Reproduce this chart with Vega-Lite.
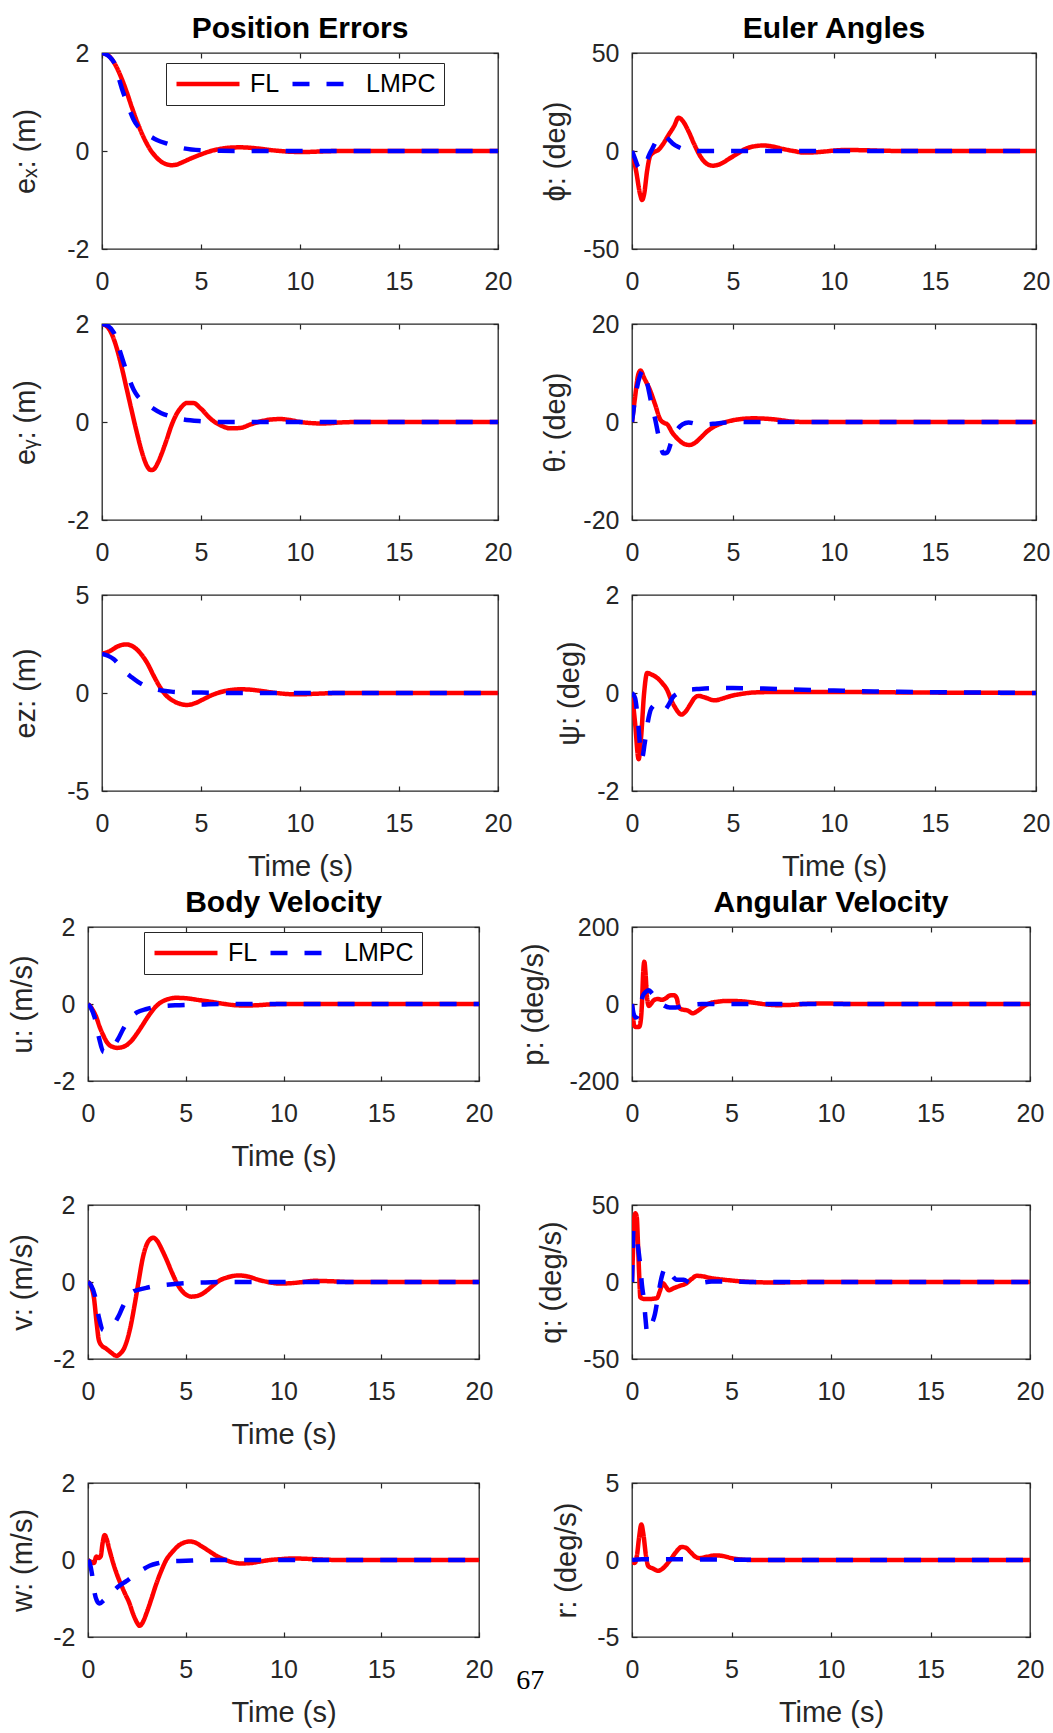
{
"$schema": "https://vega.github.io/schema/vega-lite/v6.json",
"padding": {"left": 8, "top": 13, "right": 0, "bottom": 0},
"background": "#ffffff",
"title": {"text": "67", "orient": "bottom", "anchor": "middle", "frame": "bounds", "font": "Liberation Serif", "fontSize": 28, "fontWeight": "normal", "color": "#000000", "offset": -61, "dx": 1},
"spacing": 5,
"resolve": {"scale": {"color": "independent", "strokeDash": "independent"}},
"config": {
  "font": "Liberation Sans",
  "view": {"stroke": "#262626", "strokeWidth": 1.3},
  "axis": {"domain": false, "grid": false, "tickSize": -5, "tickColor": "#262626", "tickWidth": 1.2, "labelFont": "Liberation Sans", "labelFontSize": 25, "labelColor": "#262626", "labelFlush": false, "labelOverlap": false, "titleFont": "Liberation Sans", "titleFontSize": 29, "titleFontWeight": "normal", "titleColor": "#262626"},
  "axisX": {"labelPadding": 25, "titlePadding": 16},
  "axisY": {"labelPadding": 18, "titlePadding": 12},
  "title": {"font": "Liberation Sans", "fontSize": 30, "fontWeight": "bold", "color": "#000000", "offset": -3, "frame": "group", "anchor": "middle"},
  "line": {"strokeCap": "butt", "strokeJoin": "round"}
},
"datasets": {
"ex": [
{"t":0,"s":"FL","v":2},{"t":0.25,"s":"FL","v":1.97},{"t":0.5,"s":"FL","v":1.87},{"t":0.75,"s":"FL","v":1.7},{"t":1,"s":"FL","v":1.47},{"t":1.25,"s":"FL","v":1.2},{"t":1.5,"s":"FL","v":0.9},{"t":1.75,"s":"FL","v":0.62},{"t":2,"s":"FL","v":0.37},{"t":2.25,"s":"FL","v":0.16},{"t":2.5,"s":"FL","v":-0.01},{"t":2.75,"s":"FL","v":-0.13},{"t":3,"s":"FL","v":-0.22},{"t":3.25,"s":"FL","v":-0.27},{"t":3.5,"s":"FL","v":-0.29},{"t":3.75,"s":"FL","v":-0.28},{"t":4,"s":"FL","v":-0.24},{"t":4.5,"s":"FL","v":-0.15},{"t":5,"s":"FL","v":-0.07},{"t":5.5,"s":"FL","v":0},{"t":6,"s":"FL","v":0.045},{"t":6.5,"s":"FL","v":0.07},{"t":7,"s":"FL","v":0.075},{"t":7.5,"s":"FL","v":0.065},{"t":8,"s":"FL","v":0.045},{"t":8.5,"s":"FL","v":0.02},{"t":9,"s":"FL","v":0},{"t":9.5,"s":"FL","v":-0.015},{"t":10,"s":"FL","v":-0.02},{"t":10.5,"s":"FL","v":-0.018},{"t":11,"s":"FL","v":-0.01},{"t":12,"s":"FL","v":0},{"t":14,"s":"FL","v":0},{"t":20,"s":"FL","v":0},
{"t":0,"s":"LMPC","v":2},{"t":0.3,"s":"LMPC","v":1.95},{"t":0.5,"s":"LMPC","v":1.87},{"t":0.67,"s":"LMPC","v":1.75},{"t":0.84,"s":"LMPC","v":1.5},{"t":1,"s":"LMPC","v":1.28},{"t":1.2,"s":"LMPC","v":1.05},{"t":1.4,"s":"LMPC","v":0.83},{"t":1.6,"s":"LMPC","v":0.64},{"t":1.8,"s":"LMPC","v":0.51},{"t":2,"s":"LMPC","v":0.42},{"t":2.4,"s":"LMPC","v":0.31},{"t":2.8,"s":"LMPC","v":0.22},{"t":3.3,"s":"LMPC","v":0.15},{"t":4,"s":"LMPC","v":0.065},{"t":5,"s":"LMPC","v":0.015},{"t":6,"s":"LMPC","v":0.003},{"t":7,"s":"LMPC","v":0},{"t":20,"s":"LMPC","v":0}
],
"ey": [
{"t":0,"s":"FL","v":2},{"t":0.25,"s":"FL","v":1.95},{"t":0.5,"s":"FL","v":1.79},{"t":0.75,"s":"FL","v":1.5},{"t":1,"s":"FL","v":1.11},{"t":1.25,"s":"FL","v":0.67},{"t":1.5,"s":"FL","v":0.23},{"t":1.75,"s":"FL","v":-0.2},{"t":2,"s":"FL","v":-0.59},{"t":2.25,"s":"FL","v":-0.88},{"t":2.45,"s":"FL","v":-0.98},{"t":2.6,"s":"FL","v":-0.97},{"t":2.8,"s":"FL","v":-0.85},{"t":3,"s":"FL","v":-0.66},{"t":3.25,"s":"FL","v":-0.38},{"t":3.5,"s":"FL","v":-0.08},{"t":3.75,"s":"FL","v":0.15},{"t":4,"s":"FL","v":0.3},{"t":4.3,"s":"FL","v":0.39},{"t":4.6,"s":"FL","v":0.39},{"t":5,"s":"FL","v":0.27},{"t":5.5,"s":"FL","v":0.06},{"t":6,"s":"FL","v":-0.07},{"t":6.5,"s":"FL","v":-0.13},{"t":7,"s":"FL","v":-0.12},{"t":7.5,"s":"FL","v":-0.05},{"t":8,"s":"FL","v":0.01},{"t":8.5,"s":"FL","v":0.05},{"t":9,"s":"FL","v":0.06},{"t":9.5,"s":"FL","v":0.04},{"t":10,"s":"FL","v":0},{"t":10.5,"s":"FL","v":-0.02},{"t":11,"s":"FL","v":-0.03},{"t":11.5,"s":"FL","v":-0.025},{"t":12,"s":"FL","v":-0.01},{"t":13,"s":"FL","v":0},{"t":20,"s":"FL","v":0},
{"t":0,"s":"LMPC","v":2},{"t":0.3,"s":"LMPC","v":1.96},{"t":0.6,"s":"LMPC","v":1.82},{"t":0.85,"s":"LMPC","v":1.52},{"t":1.1,"s":"LMPC","v":1.2},{"t":1.35,"s":"LMPC","v":0.9},{"t":1.6,"s":"LMPC","v":0.66},{"t":1.8,"s":"LMPC","v":0.53},{"t":2.1,"s":"LMPC","v":0.42},{"t":2.5,"s":"LMPC","v":0.3},{"t":3,"s":"LMPC","v":0.18},{"t":3.5,"s":"LMPC","v":0.11},{"t":4,"s":"LMPC","v":0.06},{"t":5,"s":"LMPC","v":0.015},{"t":6,"s":"LMPC","v":0},{"t":20,"s":"LMPC","v":0}
],
"ez": [
{"t":0,"s":"FL","v":2},{"t":0.4,"s":"FL","v":2.14},{"t":0.8,"s":"FL","v":2.38},{"t":1.2,"s":"FL","v":2.48},{"t":1.6,"s":"FL","v":2.35},{"t":2,"s":"FL","v":1.95},{"t":2.3,"s":"FL","v":1.5},{"t":2.6,"s":"FL","v":0.9},{"t":2.9,"s":"FL","v":0.35},{"t":3.2,"s":"FL","v":-0.08},{"t":3.6,"s":"FL","v":-0.4},{"t":4,"s":"FL","v":-0.57},{"t":4.3,"s":"FL","v":-0.61},{"t":4.7,"s":"FL","v":-0.52},{"t":5.1,"s":"FL","v":-0.33},{"t":5.5,"s":"FL","v":-0.13},{"t":6,"s":"FL","v":0.05},{"t":6.5,"s":"FL","v":0.15},{"t":7,"s":"FL","v":0.19},{"t":7.5,"s":"FL","v":0.17},{"t":8,"s":"FL","v":0.11},{"t":8.5,"s":"FL","v":0.04},{"t":9,"s":"FL","v":-0.02},{"t":9.5,"s":"FL","v":-0.06},{"t":10,"s":"FL","v":-0.07},{"t":10.5,"s":"FL","v":-0.05},{"t":11,"s":"FL","v":-0.03},{"t":12,"s":"FL","v":0},{"t":20,"s":"FL","v":0},
{"t":0,"s":"LMPC","v":2},{"t":0.3,"s":"LMPC","v":1.9},{"t":0.6,"s":"LMPC","v":1.72},{"t":0.9,"s":"LMPC","v":1.4},{"t":1.2,"s":"LMPC","v":1.05},{"t":1.5,"s":"LMPC","v":0.8},{"t":1.8,"s":"LMPC","v":0.58},{"t":2.1,"s":"LMPC","v":0.4},{"t":2.5,"s":"LMPC","v":0.25},{"t":3,"s":"LMPC","v":0.13},{"t":3.5,"s":"LMPC","v":0.07},{"t":4,"s":"LMPC","v":0.04},{"t":5,"s":"LMPC","v":0.02},{"t":6,"s":"LMPC","v":0.005},{"t":7,"s":"LMPC","v":0},{"t":20,"s":"LMPC","v":0}
],
"phi": [
{"t":0,"s":"FL","v":0},{"t":0.2,"s":"FL","v":-10},{"t":0.4,"s":"FL","v":-22},{"t":0.5,"s":"FL","v":-25},{"t":0.6,"s":"FL","v":-22},{"t":0.75,"s":"FL","v":-10},{"t":0.9,"s":"FL","v":-2.5},{"t":1.1,"s":"FL","v":-0.5},{"t":1.3,"s":"FL","v":0.5},{"t":1.5,"s":"FL","v":3},{"t":1.8,"s":"FL","v":8},{"t":2.1,"s":"FL","v":13},{"t":2.3,"s":"FL","v":17},{"t":2.5,"s":"FL","v":15.5},{"t":2.8,"s":"FL","v":10},{"t":3.1,"s":"FL","v":3},{"t":3.4,"s":"FL","v":-3},{"t":3.7,"s":"FL","v":-6.5},{"t":4,"s":"FL","v":-7.5},{"t":4.4,"s":"FL","v":-6.5},{"t":4.8,"s":"FL","v":-4},{"t":5.2,"s":"FL","v":-1.5},{"t":5.6,"s":"FL","v":1},{"t":6,"s":"FL","v":2.3},{"t":6.5,"s":"FL","v":2.8},{"t":7,"s":"FL","v":2.2},{"t":7.5,"s":"FL","v":1},{"t":8,"s":"FL","v":0},{"t":8.5,"s":"FL","v":-0.8},{"t":9,"s":"FL","v":-0.7},{"t":9.5,"s":"FL","v":-0.3},{"t":10,"s":"FL","v":0.2},{"t":10.5,"s":"FL","v":0.5},{"t":11.5,"s":"FL","v":0.4},{"t":12.5,"s":"FL","v":0.1},{"t":14,"s":"FL","v":0},{"t":20,"s":"FL","v":0},
{"t":0,"s":"LMPC","v":0},{"t":0.15,"s":"LMPC","v":-4},{"t":0.3,"s":"LMPC","v":-8},{"t":0.5,"s":"LMPC","v":-9.5},{"t":0.7,"s":"LMPC","v":-6},{"t":0.85,"s":"LMPC","v":-2},{"t":1,"s":"LMPC","v":1},{"t":1.25,"s":"LMPC","v":6},{"t":1.5,"s":"LMPC","v":8},{"t":1.75,"s":"LMPC","v":6.5},{"t":2,"s":"LMPC","v":4},{"t":2.3,"s":"LMPC","v":2},{"t":2.6,"s":"LMPC","v":0.8},{"t":3,"s":"LMPC","v":0.2},{"t":3.5,"s":"LMPC","v":0},{"t":20,"s":"LMPC","v":0}
],
"theta": [
{"t":0,"s":"FL","v":0},{"t":0.15,"s":"FL","v":5},{"t":0.3,"s":"FL","v":9.5},{"t":0.42,"s":"FL","v":10.5},{"t":0.6,"s":"FL","v":9},{"t":0.9,"s":"FL","v":6.4},{"t":1.15,"s":"FL","v":3.5},{"t":1.4,"s":"FL","v":0.5},{"t":1.6,"s":"FL","v":-0.2},{"t":1.75,"s":"FL","v":-0.5},{"t":2,"s":"FL","v":-2.2},{"t":2.3,"s":"FL","v":-3.6},{"t":2.6,"s":"FL","v":-4.5},{"t":2.85,"s":"FL","v":-4.7},{"t":3.1,"s":"FL","v":-4.3},{"t":3.4,"s":"FL","v":-3.2},{"t":3.7,"s":"FL","v":-2},{"t":4,"s":"FL","v":-1.1},{"t":4.5,"s":"FL","v":-0.2},{"t":5,"s":"FL","v":0.35},{"t":5.5,"s":"FL","v":0.65},{"t":6,"s":"FL","v":0.75},{"t":6.5,"s":"FL","v":0.7},{"t":7,"s":"FL","v":0.55},{"t":7.5,"s":"FL","v":0.3},{"t":8,"s":"FL","v":0.05},{"t":9,"s":"FL","v":0},{"t":20,"s":"FL","v":0},
{"t":0,"s":"LMPC","v":0},{"t":0.2,"s":"LMPC","v":6},{"t":0.4,"s":"LMPC","v":9.5},{"t":0.58,"s":"LMPC","v":10.6},{"t":0.75,"s":"LMPC","v":8},{"t":0.95,"s":"LMPC","v":4},{"t":1.15,"s":"LMPC","v":0.5},{"t":1.35,"s":"LMPC","v":-3.5},{"t":1.55,"s":"LMPC","v":-6.4},{"t":1.75,"s":"LMPC","v":-6.2},{"t":1.95,"s":"LMPC","v":-4},{"t":2.2,"s":"LMPC","v":-1.8},{"t":2.5,"s":"LMPC","v":-0.5},{"t":2.8,"s":"LMPC","v":-0.1},{"t":3.2,"s":"LMPC","v":-0.4},{"t":3.6,"s":"LMPC","v":-0.5},{"t":4.2,"s":"LMPC","v":-0.3},{"t":5,"s":"LMPC","v":0},{"t":20,"s":"LMPC","v":0}
],
"psi": [
{"t":0,"s":"FL","v":0},{"t":0.15,"s":"FL","v":-0.6},{"t":0.33,"s":"FL","v":-1.35},{"t":0.45,"s":"FL","v":-0.9},{"t":0.6,"s":"FL","v":0},{"t":0.75,"s":"FL","v":0.41},{"t":0.95,"s":"FL","v":0.38},{"t":1.24,"s":"FL","v":0.31},{"t":1.5,"s":"FL","v":0.2},{"t":1.73,"s":"FL","v":0.07},{"t":1.95,"s":"FL","v":-0.15},{"t":2.14,"s":"FL","v":-0.3},{"t":2.45,"s":"FL","v":-0.44},{"t":2.65,"s":"FL","v":-0.38},{"t":2.89,"s":"FL","v":-0.23},{"t":3.1,"s":"FL","v":-0.1},{"t":3.3,"s":"FL","v":-0.06},{"t":3.6,"s":"FL","v":-0.09},{"t":4.1,"s":"FL","v":-0.15},{"t":4.5,"s":"FL","v":-0.11},{"t":4.9,"s":"FL","v":-0.06},{"t":5.4,"s":"FL","v":-0.02},{"t":6,"s":"FL","v":0.01},{"t":7,"s":"FL","v":0.02},{"t":10,"s":"FL","v":0.02},{"t":14,"s":"FL","v":0.01},{"t":20,"s":"FL","v":0},
{"t":0,"s":"LMPC","v":0},{"t":0.15,"s":"LMPC","v":-0.1},{"t":0.28,"s":"LMPC","v":-0.5},{"t":0.42,"s":"LMPC","v":-1.15},{"t":0.5,"s":"LMPC","v":-1.32},{"t":0.62,"s":"LMPC","v":-1.05},{"t":0.78,"s":"LMPC","v":-0.6},{"t":0.95,"s":"LMPC","v":-0.32},{"t":1.2,"s":"LMPC","v":-0.23},{"t":1.45,"s":"LMPC","v":-0.3},{"t":1.6,"s":"LMPC","v":-0.35},{"t":1.8,"s":"LMPC","v":-0.25},{"t":2,"s":"LMPC","v":-0.1},{"t":2.3,"s":"LMPC","v":0},{"t":2.7,"s":"LMPC","v":0.06},{"t":3.2,"s":"LMPC","v":0.08},{"t":4,"s":"LMPC","v":0.1},{"t":5,"s":"LMPC","v":0.1},{"t":6.5,"s":"LMPC","v":0.09},{"t":8,"s":"LMPC","v":0.07},{"t":10,"s":"LMPC","v":0.05},{"t":12,"s":"LMPC","v":0.03},{"t":14,"s":"LMPC","v":0.02},{"t":17,"s":"LMPC","v":0.01},{"t":20,"s":"LMPC","v":0}
],
"u": [
{"t":0,"s":"FL","v":0},{"t":0.2,"s":"FL","v":-0.12},{"t":0.43,"s":"FL","v":-0.35},{"t":0.6,"s":"FL","v":-0.6},{"t":0.77,"s":"FL","v":-0.8},{"t":0.95,"s":"FL","v":-0.98},{"t":1.1,"s":"FL","v":-1.07},{"t":1.3,"s":"FL","v":-1.12},{"t":1.5,"s":"FL","v":-1.14},{"t":1.75,"s":"FL","v":-1.12},{"t":2,"s":"FL","v":-1.06},{"t":2.25,"s":"FL","v":-0.94},{"t":2.5,"s":"FL","v":-0.77},{"t":2.75,"s":"FL","v":-0.58},{"t":3,"s":"FL","v":-0.38},{"t":3.25,"s":"FL","v":-0.2},{"t":3.5,"s":"FL","v":-0.05},{"t":3.75,"s":"FL","v":0.05},{"t":4,"s":"FL","v":0.11},{"t":4.5,"s":"FL","v":0.16},{"t":5,"s":"FL","v":0.15},{"t":5.7,"s":"FL","v":0.1},{"t":6.5,"s":"FL","v":0.04},{"t":7,"s":"FL","v":0},{"t":7.5,"s":"FL","v":-0.03},{"t":8.1,"s":"FL","v":-0.04},{"t":8.7,"s":"FL","v":-0.03},{"t":9.3,"s":"FL","v":-0.01},{"t":10,"s":"FL","v":0},{"t":20,"s":"FL","v":0},
{"t":0,"s":"LMPC","v":0},{"t":0.15,"s":"LMPC","v":-0.1},{"t":0.34,"s":"LMPC","v":-0.35},{"t":0.55,"s":"LMPC","v":-0.85},{"t":0.8,"s":"LMPC","v":-1.25},{"t":1,"s":"LMPC","v":-1.2},{"t":1.3,"s":"LMPC","v":-1.1},{"t":1.55,"s":"LMPC","v":-0.9},{"t":1.8,"s":"LMPC","v":-0.65},{"t":2.1,"s":"LMPC","v":-0.4},{"t":2.5,"s":"LMPC","v":-0.22},{"t":3,"s":"LMPC","v":-0.13},{"t":3.7,"s":"LMPC","v":-0.06},{"t":4.7,"s":"LMPC","v":-0.03},{"t":6,"s":"LMPC","v":-0.01},{"t":7,"s":"LMPC","v":0},{"t":20,"s":"LMPC","v":0}
],
"v": [
{"t":0,"s":"FL","v":0},{"t":0.15,"s":"FL","v":-0.1},{"t":0.3,"s":"FL","v":-0.4},{"t":0.45,"s":"FL","v":-1.1},{"t":0.55,"s":"FL","v":-1.5},{"t":0.7,"s":"FL","v":-1.65},{"t":0.9,"s":"FL","v":-1.72},{"t":1.1,"s":"FL","v":-1.8},{"t":1.3,"s":"FL","v":-1.88},{"t":1.45,"s":"FL","v":-1.92},{"t":1.65,"s":"FL","v":-1.86},{"t":1.85,"s":"FL","v":-1.72},{"t":2.05,"s":"FL","v":-1.42},{"t":2.2,"s":"FL","v":-1.1},{"t":2.4,"s":"FL","v":-0.55},{"t":2.6,"s":"FL","v":0.05},{"t":2.8,"s":"FL","v":0.62},{"t":3,"s":"FL","v":0.97},{"t":3.2,"s":"FL","v":1.12},{"t":3.35,"s":"FL","v":1.15},{"t":3.55,"s":"FL","v":1.06},{"t":3.8,"s":"FL","v":0.82},{"t":4,"s":"FL","v":0.6},{"t":4.3,"s":"FL","v":0.24},{"t":4.6,"s":"FL","v":-0.08},{"t":4.9,"s":"FL","v":-0.28},{"t":5.3,"s":"FL","v":-0.38},{"t":5.6,"s":"FL","v":-0.36},{"t":5.9,"s":"FL","v":-0.29},{"t":6.3,"s":"FL","v":-0.13},{"t":6.7,"s":"FL","v":0.03},{"t":7.2,"s":"FL","v":0.13},{"t":7.7,"s":"FL","v":0.17},{"t":8.2,"s":"FL","v":0.14},{"t":8.7,"s":"FL","v":0.06},{"t":9.2,"s":"FL","v":0},{"t":9.8,"s":"FL","v":-0.04},{"t":10.4,"s":"FL","v":-0.03},{"t":11,"s":"FL","v":0},{"t":11.6,"s":"FL","v":0.03},{"t":12.4,"s":"FL","v":0.02},{"t":13.5,"s":"FL","v":0},{"t":20,"s":"FL","v":0},
{"t":0,"s":"LMPC","v":0},{"t":0.15,"s":"LMPC","v":-0.08},{"t":0.35,"s":"LMPC","v":-0.35},{"t":0.55,"s":"LMPC","v":-0.9},{"t":0.78,"s":"LMPC","v":-1.25},{"t":1,"s":"LMPC","v":-1.18},{"t":1.3,"s":"LMPC","v":-1.1},{"t":1.55,"s":"LMPC","v":-0.9},{"t":1.8,"s":"LMPC","v":-0.62},{"t":2.05,"s":"LMPC","v":-0.4},{"t":2.3,"s":"LMPC","v":-0.25},{"t":2.6,"s":"LMPC","v":-0.2},{"t":3,"s":"LMPC","v":-0.15},{"t":3.5,"s":"LMPC","v":-0.1},{"t":4,"s":"LMPC","v":-0.07},{"t":5,"s":"LMPC","v":-0.03},{"t":6,"s":"LMPC","v":-0.01},{"t":7,"s":"LMPC","v":0},{"t":20,"s":"LMPC","v":0}
],
"w": [
{"t":0,"s":"FL","v":0},{"t":0.15,"s":"FL","v":-0.05},{"t":0.3,"s":"FL","v":-0.08},{"t":0.43,"s":"FL","v":0.09},{"t":0.55,"s":"FL","v":0.05},{"t":0.65,"s":"FL","v":0.1},{"t":0.75,"s":"FL","v":0.45},{"t":0.85,"s":"FL","v":0.65},{"t":0.95,"s":"FL","v":0.55},{"t":1.1,"s":"FL","v":0.26},{"t":1.3,"s":"FL","v":-0.1},{"t":1.5,"s":"FL","v":-0.4},{"t":1.7,"s":"FL","v":-0.65},{"t":1.9,"s":"FL","v":-0.88},{"t":2.1,"s":"FL","v":-1.1},{"t":2.3,"s":"FL","v":-1.39},{"t":2.5,"s":"FL","v":-1.62},{"t":2.64,"s":"FL","v":-1.71},{"t":2.8,"s":"FL","v":-1.62},{"t":3,"s":"FL","v":-1.37},{"t":3.25,"s":"FL","v":-1},{"t":3.5,"s":"FL","v":-0.61},{"t":3.75,"s":"FL","v":-0.28},{"t":4,"s":"FL","v":0},{"t":4.3,"s":"FL","v":0.2},{"t":4.6,"s":"FL","v":0.36},{"t":4.9,"s":"FL","v":0.45},{"t":5.2,"s":"FL","v":0.48},{"t":5.5,"s":"FL","v":0.45},{"t":5.8,"s":"FL","v":0.36},{"t":6.2,"s":"FL","v":0.23},{"t":6.6,"s":"FL","v":0.1},{"t":7,"s":"FL","v":0.01},{"t":7.4,"s":"FL","v":-0.06},{"t":7.8,"s":"FL","v":-0.09},{"t":8.3,"s":"FL","v":-0.08},{"t":8.8,"s":"FL","v":-0.04},{"t":9.3,"s":"FL","v":0},{"t":9.8,"s":"FL","v":0.02},{"t":10.5,"s":"FL","v":0.04},{"t":11.2,"s":"FL","v":0.03},{"t":12,"s":"FL","v":0.01},{"t":13,"s":"FL","v":0},{"t":20,"s":"FL","v":0},
{"t":0,"s":"LMPC","v":0},{"t":0.1,"s":"LMPC","v":-0.1},{"t":0.2,"s":"LMPC","v":-0.35},{"t":0.3,"s":"LMPC","v":-0.75},{"t":0.45,"s":"LMPC","v":-1.05},{"t":0.6,"s":"LMPC","v":-1.13},{"t":0.8,"s":"LMPC","v":-1.05},{"t":1,"s":"LMPC","v":-0.95},{"t":1.3,"s":"LMPC","v":-0.8},{"t":1.6,"s":"LMPC","v":-0.67},{"t":1.96,"s":"LMPC","v":-0.55},{"t":2.3,"s":"LMPC","v":-0.42},{"t":2.7,"s":"LMPC","v":-0.28},{"t":3.15,"s":"LMPC","v":-0.15},{"t":3.6,"s":"LMPC","v":-0.08},{"t":4,"s":"LMPC","v":-0.04},{"t":5,"s":"LMPC","v":-0.02},{"t":6,"s":"LMPC","v":0},{"t":20,"s":"LMPC","v":0}
],
"p": [
{"t":0,"s":"FL","v":0},{"t":0.05,"s":"FL","v":-30},{"t":0.1,"s":"FL","v":-55},{"t":0.2,"s":"FL","v":-60},{"t":0.35,"s":"FL","v":-60},{"t":0.42,"s":"FL","v":-50},{"t":0.5,"s":"FL","v":0},{"t":0.56,"s":"FL","v":80},{"t":0.62,"s":"FL","v":110},{"t":0.68,"s":"FL","v":80},{"t":0.75,"s":"FL","v":20},{"t":0.85,"s":"FL","v":-5},{"t":0.95,"s":"FL","v":0},{"t":1.1,"s":"FL","v":10},{"t":1.3,"s":"FL","v":13},{"t":1.5,"s":"FL","v":11},{"t":1.7,"s":"FL","v":15},{"t":1.9,"s":"FL","v":22},{"t":2.1,"s":"FL","v":23},{"t":2.25,"s":"FL","v":15},{"t":2.35,"s":"FL","v":-8},{"t":2.5,"s":"FL","v":-14},{"t":2.8,"s":"FL","v":-17},{"t":3.05,"s":"FL","v":-24},{"t":3.3,"s":"FL","v":-18},{"t":3.6,"s":"FL","v":-6},{"t":3.9,"s":"FL","v":2},{"t":4.3,"s":"FL","v":6},{"t":4.8,"s":"FL","v":8},{"t":5.3,"s":"FL","v":7.5},{"t":5.8,"s":"FL","v":5.5},{"t":6.3,"s":"FL","v":2},{"t":6.8,"s":"FL","v":-1.5},{"t":7.3,"s":"FL","v":-3},{"t":7.9,"s":"FL","v":-2.5},{"t":8.5,"s":"FL","v":-0.5},{"t":9.3,"s":"FL","v":1},{"t":10,"s":"FL","v":1},{"t":11,"s":"FL","v":0},{"t":20,"s":"FL","v":0},
{"t":0,"s":"LMPC","v":0},{"t":0.08,"s":"LMPC","v":-25},{"t":0.2,"s":"LMPC","v":-35},{"t":0.3,"s":"LMPC","v":-30},{"t":0.42,"s":"LMPC","v":-5},{"t":0.55,"s":"LMPC","v":22},{"t":0.7,"s":"LMPC","v":32},{"t":0.85,"s":"LMPC","v":36},{"t":1,"s":"LMPC","v":28},{"t":1.2,"s":"LMPC","v":14},{"t":1.5,"s":"LMPC","v":0},{"t":1.9,"s":"LMPC","v":-9},{"t":2.2,"s":"LMPC","v":-9},{"t":2.5,"s":"LMPC","v":-6},{"t":3,"s":"LMPC","v":-2},{"t":3.5,"s":"LMPC","v":0},{"t":20,"s":"LMPC","v":0}
],
"q": [
{"t":0,"s":"FL","v":0},{"t":0.05,"s":"FL","v":20},{"t":0.1,"s":"FL","v":40},{"t":0.17,"s":"FL","v":44.6},{"t":0.24,"s":"FL","v":42},{"t":0.3,"s":"FL","v":25},{"t":0.36,"s":"FL","v":5},{"t":0.42,"s":"FL","v":-10},{"t":0.6,"s":"FL","v":-11},{"t":0.9,"s":"FL","v":-11},{"t":1.25,"s":"FL","v":-10.5},{"t":1.4,"s":"FL","v":-6},{"t":1.55,"s":"FL","v":-0.8},{"t":1.7,"s":"FL","v":-3},{"t":1.85,"s":"FL","v":-5.4},{"t":2.1,"s":"FL","v":-4},{"t":2.4,"s":"FL","v":-2.5},{"t":2.75,"s":"FL","v":-0.7},{"t":3,"s":"FL","v":2},{"t":3.25,"s":"FL","v":4},{"t":3.5,"s":"FL","v":3.8},{"t":3.9,"s":"FL","v":2.7},{"t":4.4,"s":"FL","v":1.8},{"t":4.9,"s":"FL","v":1.1},{"t":5.5,"s":"FL","v":0.4},{"t":6.2,"s":"FL","v":-0.1},{"t":7,"s":"FL","v":-0.3},{"t":8,"s":"FL","v":-0.2},{"t":9,"s":"FL","v":0},{"t":20,"s":"FL","v":0},
{"t":0,"s":"LMPC","v":0},{"t":0.08,"s":"LMPC","v":34},{"t":0.15,"s":"LMPC","v":33},{"t":0.25,"s":"LMPC","v":27},{"t":0.35,"s":"LMPC","v":18},{"t":0.42,"s":"LMPC","v":10},{"t":0.5,"s":"LMPC","v":-2},{"t":0.6,"s":"LMPC","v":-12},{"t":0.68,"s":"LMPC","v":-24},{"t":0.76,"s":"LMPC","v":-33},{"t":0.85,"s":"LMPC","v":-31},{"t":1,"s":"LMPC","v":-27},{"t":1.15,"s":"LMPC","v":-21},{"t":1.3,"s":"LMPC","v":-10},{"t":1.42,"s":"LMPC","v":-1},{"t":1.55,"s":"LMPC","v":6},{"t":1.7,"s":"LMPC","v":9.5},{"t":1.84,"s":"LMPC","v":8},{"t":2,"s":"LMPC","v":4.5},{"t":2.25,"s":"LMPC","v":1.5},{"t":2.6,"s":"LMPC","v":1.5},{"t":2.9,"s":"LMPC","v":-0.5},{"t":3.3,"s":"LMPC","v":-0.7},{"t":4,"s":"LMPC","v":0.3},{"t":5,"s":"LMPC","v":0.3},{"t":6,"s":"LMPC","v":0},{"t":20,"s":"LMPC","v":0}
],
"r": [
{"t":0,"s":"FL","v":0},{"t":0.13,"s":"FL","v":-0.2},{"t":0.25,"s":"FL","v":0.3},{"t":0.35,"s":"FL","v":1.4},{"t":0.47,"s":"FL","v":2.3},{"t":0.58,"s":"FL","v":1.6},{"t":0.7,"s":"FL","v":0.3},{"t":0.82,"s":"FL","v":-0.4},{"t":1.05,"s":"FL","v":-0.55},{"t":1.3,"s":"FL","v":-0.7},{"t":1.5,"s":"FL","v":-0.6},{"t":1.7,"s":"FL","v":-0.35},{"t":1.95,"s":"FL","v":0.05},{"t":2.2,"s":"FL","v":0.5},{"t":2.5,"s":"FL","v":0.85},{"t":2.7,"s":"FL","v":0.8},{"t":2.95,"s":"FL","v":0.5},{"t":3.2,"s":"FL","v":0.2},{"t":3.4,"s":"FL","v":0.12},{"t":3.8,"s":"FL","v":0.22},{"t":4.2,"s":"FL","v":0.3},{"t":4.6,"s":"FL","v":0.25},{"t":5,"s":"FL","v":0.12},{"t":5.5,"s":"FL","v":0.03},{"t":6,"s":"FL","v":0},{"t":20,"s":"FL","v":0},
{"t":0,"s":"LMPC","v":0},{"t":0.5,"s":"LMPC","v":0.05},{"t":2,"s":"LMPC","v":0.05},{"t":5,"s":"LMPC","v":0.02},{"t":8,"s":"LMPC","v":0},{"t":20,"s":"LMPC","v":0}
]
},
"vconcat": [
{"bounds": "flush", "spacing": 13, "resolve": {"scale": {"color": "independent", "strokeDash": "independent"}},
 "hconcat": [
  {"width": 1, "height": 1, "data": {"values": []}, "mark": "point", "encoding": {}, "view": {"stroke": null}},
  {"columns": 2, "bounds": "flush", "spacing": {"row": 75, "column": 134}, "resolve": {"scale": {"color": "independent", "strokeDash": "independent"}},
   "concat": [
    {"width": 396, "height": 196, "data": {"name": "ex"}, "title": {"text": "Position Errors"},
     "layer": [
      {"mark": {"type": "line", "strokeWidth": 4.5, "interpolate": "monotone", "clip": true},
       "encoding": {
        "x": {"field": "t", "type": "quantitative", "scale": {"domain": [0, 20], "nice": false}, "axis": {"values": [0, 5, 10, 15, 20], "title": null}},
        "y": {"field": "v", "type": "quantitative", "scale": {"domain": [-2, 2], "nice": false}, "axis": {"values": [-2, 0, 2], "title": "eₓ: (m)", "titlePadding": 26, "labelExpr": "replace(datum.label, '−', '-')"}},
        "color": {"field": "s", "type": "nominal", "scale": {"domain": ["FL", "LMPC"], "range": ["#ff0000", "#0000ff"]}, "legend": {"orient": "none", "legendX": 64, "legendY": 10, "direction": "horizontal", "title": null, "symbolType": "stroke", "symbolSize": 3969, "symbolStrokeWidth": 4.5, "clipHeight": 26, "labelFont": "Liberation Sans", "labelFontSize": 25, "labelColor": "#000000", "labelOffset": 8, "columnPadding": 10, "padding": 8, "strokeColor": "#262626", "fillColor": "#ffffff"}},
        "strokeDash": {"field": "s", "type": "nominal", "scale": {"domain": ["FL", "LMPC"], "range": [[1, 0], [17, 17]]}, "legend": {"orient": "none", "legendX": 64, "legendY": 10, "direction": "horizontal", "title": null, "symbolType": "stroke", "symbolSize": 3969, "symbolStrokeWidth": 4.5, "clipHeight": 26, "labelFont": "Liberation Sans", "labelFontSize": 25, "labelColor": "#000000", "labelOffset": 8, "columnPadding": 10, "padding": 8, "strokeColor": "#262626", "fillColor": "#ffffff"}}
       }},
      {"mark": {"type": "point", "opacity": 0},
       "encoding": {
        "x": {"datum": 0, "type": "quantitative", "scale": {"domain": [0, 20], "nice": false}, "axis": {"orient": "top", "values": [0, 5, 10, 15, 20], "labels": false, "title": null}},
        "y": {"datum": 0, "type": "quantitative", "scale": {"domain": [-2, 2], "nice": false}, "axis": {"orient": "right", "values": [-2, 0, 2], "labels": false, "title": null}}
       }}
     ],
     "resolve": {"axis": {"x": "independent", "y": "independent"}}},
    {"width": 404, "height": 196, "data": {"name": "phi"}, "title": {"text": "Euler Angles"},
     "layer": [
      {"mark": {"type": "line", "strokeWidth": 4.5, "interpolate": "monotone", "clip": true},
       "encoding": {
        "x": {"field": "t", "type": "quantitative", "scale": {"domain": [0, 20], "nice": false}, "axis": {"values": [0, 5, 10, 15, 20], "title": null}},
        "y": {"field": "v", "type": "quantitative", "scale": {"domain": [-50, 50], "nice": false}, "axis": {"values": [-50, 0, 50], "title": "ϕ: (deg)", "labelExpr": "replace(datum.label, '−', '-')"}},
        "color": {"field": "s", "type": "nominal", "scale": {"domain": ["FL", "LMPC"], "range": ["#ff0000", "#0000ff"]}, "legend": null},
        "strokeDash": {"field": "s", "type": "nominal", "scale": {"domain": ["FL", "LMPC"], "range": [[1, 0], [17, 17]]}, "legend": null}
       }},
      {"mark": {"type": "point", "opacity": 0},
       "encoding": {
        "x": {"datum": 0, "type": "quantitative", "scale": {"domain": [0, 20], "nice": false}, "axis": {"orient": "top", "values": [0, 5, 10, 15, 20], "labels": false, "title": null}},
        "y": {"datum": 0, "type": "quantitative", "scale": {"domain": [-50, 50], "nice": false}, "axis": {"orient": "right", "values": [-50, 0, 50], "labels": false, "title": null}}
       }}
     ],
     "resolve": {"axis": {"x": "independent", "y": "independent"}}},
    {"width": 396, "height": 196, "data": {"name": "ey"},
     "layer": [
      {"mark": {"type": "line", "strokeWidth": 4.5, "interpolate": "monotone", "clip": true},
       "encoding": {
        "x": {"field": "t", "type": "quantitative", "scale": {"domain": [0, 20], "nice": false}, "axis": {"values": [0, 5, 10, 15, 20], "title": null}},
        "y": {"field": "v", "type": "quantitative", "scale": {"domain": [-2, 2], "nice": false}, "axis": {"values": [-2, 0, 2], "title": "eᵧ: (m)", "titlePadding": 26, "labelExpr": "replace(datum.label, '−', '-')"}},
        "color": {"field": "s", "type": "nominal", "scale": {"domain": ["FL", "LMPC"], "range": ["#ff0000", "#0000ff"]}, "legend": null},
        "strokeDash": {"field": "s", "type": "nominal", "scale": {"domain": ["FL", "LMPC"], "range": [[1, 0], [17, 17]]}, "legend": null}
       }},
      {"mark": {"type": "point", "opacity": 0},
       "encoding": {
        "x": {"datum": 0, "type": "quantitative", "scale": {"domain": [0, 20], "nice": false}, "axis": {"orient": "top", "values": [0, 5, 10, 15, 20], "labels": false, "title": null}},
        "y": {"datum": 0, "type": "quantitative", "scale": {"domain": [-2, 2], "nice": false}, "axis": {"orient": "right", "values": [-2, 0, 2], "labels": false, "title": null}}
       }}
     ],
     "resolve": {"axis": {"x": "independent", "y": "independent"}}},
    {"width": 404, "height": 196, "data": {"name": "theta"},
     "layer": [
      {"mark": {"type": "line", "strokeWidth": 4.5, "interpolate": "monotone", "clip": true},
       "encoding": {
        "x": {"field": "t", "type": "quantitative", "scale": {"domain": [0, 20], "nice": false}, "axis": {"values": [0, 5, 10, 15, 20], "title": null}},
        "y": {"field": "v", "type": "quantitative", "scale": {"domain": [-20, 20], "nice": false}, "axis": {"values": [-20, 0, 20], "title": "θ: (deg)", "labelExpr": "replace(datum.label, '−', '-')"}},
        "color": {"field": "s", "type": "nominal", "scale": {"domain": ["FL", "LMPC"], "range": ["#ff0000", "#0000ff"]}, "legend": null},
        "strokeDash": {"field": "s", "type": "nominal", "scale": {"domain": ["FL", "LMPC"], "range": [[1, 0], [17, 17]]}, "legend": null}
       }},
      {"mark": {"type": "point", "opacity": 0},
       "encoding": {
        "x": {"datum": 0, "type": "quantitative", "scale": {"domain": [0, 20], "nice": false}, "axis": {"orient": "top", "values": [0, 5, 10, 15, 20], "labels": false, "title": null}},
        "y": {"datum": 0, "type": "quantitative", "scale": {"domain": [-20, 20], "nice": false}, "axis": {"orient": "right", "values": [-20, 0, 20], "labels": false, "title": null}}
       }}
     ],
     "resolve": {"axis": {"x": "independent", "y": "independent"}}},
    {"width": 396, "height": 196, "data": {"name": "ez"},
     "layer": [
      {"mark": {"type": "line", "strokeWidth": 4.5, "interpolate": "monotone", "clip": true},
       "encoding": {
        "x": {"field": "t", "type": "quantitative", "scale": {"domain": [0, 20], "nice": false}, "axis": {"values": [0, 5, 10, 15, 20], "title": "Time (s)"}},
        "y": {"field": "v", "type": "quantitative", "scale": {"domain": [-5, 5], "nice": false}, "axis": {"values": [-5, 0, 5], "title": "eᴢ: (m)", "titlePadding": 26, "labelExpr": "replace(datum.label, '−', '-')"}},
        "color": {"field": "s", "type": "nominal", "scale": {"domain": ["FL", "LMPC"], "range": ["#ff0000", "#0000ff"]}, "legend": null},
        "strokeDash": {"field": "s", "type": "nominal", "scale": {"domain": ["FL", "LMPC"], "range": [[1, 0], [17, 17]]}, "legend": null}
       }},
      {"mark": {"type": "point", "opacity": 0},
       "encoding": {
        "x": {"datum": 0, "type": "quantitative", "scale": {"domain": [0, 20], "nice": false}, "axis": {"orient": "top", "values": [0, 5, 10, 15, 20], "labels": false, "title": null}},
        "y": {"datum": 0, "type": "quantitative", "scale": {"domain": [-5, 5], "nice": false}, "axis": {"orient": "right", "values": [-5, 0, 5], "labels": false, "title": null}}
       }}
     ],
     "resolve": {"axis": {"x": "independent", "y": "independent"}}},
    {"width": 404, "height": 196, "data": {"name": "psi"},
     "layer": [
      {"mark": {"type": "line", "strokeWidth": 4.5, "interpolate": "monotone", "clip": true},
       "encoding": {
        "x": {"field": "t", "type": "quantitative", "scale": {"domain": [0, 20], "nice": false}, "axis": {"values": [0, 5, 10, 15, 20], "title": "Time (s)"}},
        "y": {"field": "v", "type": "quantitative", "scale": {"domain": [-2, 2], "nice": false}, "axis": {"values": [-2, 0, 2], "title": "ψ: (deg)", "labelExpr": "replace(datum.label, '−', '-')"}},
        "color": {"field": "s", "type": "nominal", "scale": {"domain": ["FL", "LMPC"], "range": ["#ff0000", "#0000ff"]}, "legend": null},
        "strokeDash": {"field": "s", "type": "nominal", "scale": {"domain": ["FL", "LMPC"], "range": [[1, 0], [17, 17]]}, "legend": null}
       }},
      {"mark": {"type": "point", "opacity": 0},
       "encoding": {
        "x": {"datum": 0, "type": "quantitative", "scale": {"domain": [0, 20], "nice": false}, "axis": {"orient": "top", "values": [0, 5, 10, 15, 20], "labels": false, "title": null}},
        "y": {"datum": 0, "type": "quantitative", "scale": {"domain": [-2, 2], "nice": false}, "axis": {"orient": "right", "values": [-2, 0, 2], "labels": false, "title": null}}
       }}
     ],
     "resolve": {"axis": {"x": "independent", "y": "independent"}}}
   ]}
 ]},
{"columns": 2, "bounds": "flush", "spacing": {"row": 124, "column": 153}, "resolve": {"scale": {"color": "independent", "strokeDash": "independent"}},
 "concat": [
  {"width": 391, "height": 154, "data": {"name": "u"}, "title": {"text": "Body Velocity"},
   "layer": [
    {"mark": {"type": "line", "strokeWidth": 4.5, "interpolate": "monotone", "clip": true},
     "encoding": {
      "x": {"field": "t", "type": "quantitative", "scale": {"domain": [0, 20], "nice": false}, "axis": {"values": [0, 5, 10, 15, 20], "title": "Time (s)"}},
      "y": {"field": "v", "type": "quantitative", "scale": {"domain": [-2, 2], "nice": false}, "axis": {"values": [-2, 0, 2], "title": "u: (m/s)", "titlePadding": 15, "labelExpr": "replace(datum.label, '−', '-')"}},
      "color": {"field": "s", "type": "nominal", "scale": {"domain": ["FL", "LMPC"], "range": ["#ff0000", "#0000ff"]}, "legend": {"orient": "none", "legendX": 56, "legendY": 5, "direction": "horizontal", "title": null, "symbolType": "stroke", "symbolSize": 3969, "symbolStrokeWidth": 4.5, "clipHeight": 26, "labelFont": "Liberation Sans", "labelFontSize": 25, "labelColor": "#000000", "labelOffset": 8, "columnPadding": 10, "padding": 8, "strokeColor": "#262626", "fillColor": "#ffffff"}},
      "strokeDash": {"field": "s", "type": "nominal", "scale": {"domain": ["FL", "LMPC"], "range": [[1, 0], [17, 17]]}, "legend": {"orient": "none", "legendX": 56, "legendY": 5, "direction": "horizontal", "title": null, "symbolType": "stroke", "symbolSize": 3969, "symbolStrokeWidth": 4.5, "clipHeight": 26, "labelFont": "Liberation Sans", "labelFontSize": 25, "labelColor": "#000000", "labelOffset": 8, "columnPadding": 10, "padding": 8, "strokeColor": "#262626", "fillColor": "#ffffff"}}
     }},
    {"mark": {"type": "point", "opacity": 0},
     "encoding": {
      "x": {"datum": 0, "type": "quantitative", "scale": {"domain": [0, 20], "nice": false}, "axis": {"orient": "top", "values": [0, 5, 10, 15, 20], "labels": false, "title": null}},
      "y": {"datum": 0, "type": "quantitative", "scale": {"domain": [-2, 2], "nice": false}, "axis": {"orient": "right", "values": [-2, 0, 2], "labels": false, "title": null}}
     }}
   ],
   "resolve": {"axis": {"x": "independent", "y": "independent"}}},
  {"width": 398, "height": 154, "data": {"name": "p"}, "title": {"text": "Angular Velocity"},
   "layer": [
    {"mark": {"type": "line", "strokeWidth": 4.5, "interpolate": "monotone", "clip": true},
     "encoding": {
      "x": {"field": "t", "type": "quantitative", "scale": {"domain": [0, 20], "nice": false}, "axis": {"values": [0, 5, 10, 15, 20], "title": null}},
      "y": {"field": "v", "type": "quantitative", "scale": {"domain": [-200, 200], "nice": false}, "axis": {"values": [-200, 0, 200], "title": "p: (deg/s)", "titlePadding": 20, "labelExpr": "replace(datum.label, '−', '-')"}},
      "color": {"field": "s", "type": "nominal", "scale": {"domain": ["FL", "LMPC"], "range": ["#ff0000", "#0000ff"]}, "legend": null},
      "strokeDash": {"field": "s", "type": "nominal", "scale": {"domain": ["FL", "LMPC"], "range": [[1, 0], [17, 17]]}, "legend": null}
     }},
    {"mark": {"type": "point", "opacity": 0},
     "encoding": {
      "x": {"datum": 0, "type": "quantitative", "scale": {"domain": [0, 20], "nice": false}, "axis": {"orient": "top", "values": [0, 5, 10, 15, 20], "labels": false, "title": null}},
      "y": {"datum": 0, "type": "quantitative", "scale": {"domain": [-200, 200], "nice": false}, "axis": {"orient": "right", "values": [-200, 0, 200], "labels": false, "title": null}}
     }}
   ],
   "resolve": {"axis": {"x": "independent", "y": "independent"}}},
  {"width": 391, "height": 154, "data": {"name": "v"},
   "layer": [
    {"mark": {"type": "line", "strokeWidth": 4.5, "interpolate": "monotone", "clip": true},
     "encoding": {
      "x": {"field": "t", "type": "quantitative", "scale": {"domain": [0, 20], "nice": false}, "axis": {"values": [0, 5, 10, 15, 20], "title": "Time (s)"}},
      "y": {"field": "v", "type": "quantitative", "scale": {"domain": [-2, 2], "nice": false}, "axis": {"values": [-2, 0, 2], "title": "v: (m/s)", "titlePadding": 15, "labelExpr": "replace(datum.label, '−', '-')"}},
      "color": {"field": "s", "type": "nominal", "scale": {"domain": ["FL", "LMPC"], "range": ["#ff0000", "#0000ff"]}, "legend": null},
      "strokeDash": {"field": "s", "type": "nominal", "scale": {"domain": ["FL", "LMPC"], "range": [[1, 0], [17, 17]]}, "legend": null}
     }},
    {"mark": {"type": "point", "opacity": 0},
     "encoding": {
      "x": {"datum": 0, "type": "quantitative", "scale": {"domain": [0, 20], "nice": false}, "axis": {"orient": "top", "values": [0, 5, 10, 15, 20], "labels": false, "title": null}},
      "y": {"datum": 0, "type": "quantitative", "scale": {"domain": [-2, 2], "nice": false}, "axis": {"orient": "right", "values": [-2, 0, 2], "labels": false, "title": null}}
     }}
   ],
   "resolve": {"axis": {"x": "independent", "y": "independent"}}},
  {"width": 398, "height": 154, "data": {"name": "q"},
   "layer": [
    {"mark": {"type": "line", "strokeWidth": 4.5, "interpolate": "monotone", "clip": true},
     "encoding": {
      "x": {"field": "t", "type": "quantitative", "scale": {"domain": [0, 20], "nice": false}, "axis": {"values": [0, 5, 10, 15, 20], "title": null}},
      "y": {"field": "v", "type": "quantitative", "scale": {"domain": [-50, 50], "nice": false}, "axis": {"values": [-50, 0, 50], "title": "q: (deg/s)", "titlePadding": 16, "labelExpr": "replace(datum.label, '−', '-')"}},
      "color": {"field": "s", "type": "nominal", "scale": {"domain": ["FL", "LMPC"], "range": ["#ff0000", "#0000ff"]}, "legend": null},
      "strokeDash": {"field": "s", "type": "nominal", "scale": {"domain": ["FL", "LMPC"], "range": [[1, 0], [17, 17]]}, "legend": null}
     }},
    {"mark": {"type": "point", "opacity": 0},
     "encoding": {
      "x": {"datum": 0, "type": "quantitative", "scale": {"domain": [0, 20], "nice": false}, "axis": {"orient": "top", "values": [0, 5, 10, 15, 20], "labels": false, "title": null}},
      "y": {"datum": 0, "type": "quantitative", "scale": {"domain": [-50, 50], "nice": false}, "axis": {"orient": "right", "values": [-50, 0, 50], "labels": false, "title": null}}
     }}
   ],
   "resolve": {"axis": {"x": "independent", "y": "independent"}}},
  {"width": 391, "height": 154, "data": {"name": "w"},
   "layer": [
    {"mark": {"type": "line", "strokeWidth": 4.5, "interpolate": "monotone", "clip": true},
     "encoding": {
      "x": {"field": "t", "type": "quantitative", "scale": {"domain": [0, 20], "nice": false}, "axis": {"values": [0, 5, 10, 15, 20], "title": "Time (s)"}},
      "y": {"field": "v", "type": "quantitative", "scale": {"domain": [-2, 2], "nice": false}, "axis": {"values": [-2, 0, 2], "title": "w: (m/s)", "titlePadding": 15, "labelExpr": "replace(datum.label, '−', '-')"}},
      "color": {"field": "s", "type": "nominal", "scale": {"domain": ["FL", "LMPC"], "range": ["#ff0000", "#0000ff"]}, "legend": null},
      "strokeDash": {"field": "s", "type": "nominal", "scale": {"domain": ["FL", "LMPC"], "range": [[1, 0], [17, 17]]}, "legend": null}
     }},
    {"mark": {"type": "point", "opacity": 0},
     "encoding": {
      "x": {"datum": 0, "type": "quantitative", "scale": {"domain": [0, 20], "nice": false}, "axis": {"orient": "top", "values": [0, 5, 10, 15, 20], "labels": false, "title": null}},
      "y": {"datum": 0, "type": "quantitative", "scale": {"domain": [-2, 2], "nice": false}, "axis": {"orient": "right", "values": [-2, 0, 2], "labels": false, "title": null}}
     }}
   ],
   "resolve": {"axis": {"x": "independent", "y": "independent"}}},
  {"width": 398, "height": 154, "data": {"name": "r"},
   "layer": [
    {"mark": {"type": "line", "strokeWidth": 4.5, "interpolate": "monotone", "clip": true},
     "encoding": {
      "x": {"field": "t", "type": "quantitative", "scale": {"domain": [0, 20], "nice": false}, "axis": {"values": [0, 5, 10, 15, 20], "title": "Time (s)"}},
      "y": {"field": "v", "type": "quantitative", "scale": {"domain": [-5, 5], "nice": false}, "axis": {"values": [-5, 0, 5], "title": "r: (deg/s)", "titlePadding": 15, "labelExpr": "replace(datum.label, '−', '-')"}},
      "color": {"field": "s", "type": "nominal", "scale": {"domain": ["FL", "LMPC"], "range": ["#ff0000", "#0000ff"]}, "legend": null},
      "strokeDash": {"field": "s", "type": "nominal", "scale": {"domain": ["FL", "LMPC"], "range": [[1, 0], [17, 17]]}, "legend": null}
     }},
    {"mark": {"type": "point", "opacity": 0},
     "encoding": {
      "x": {"datum": 0, "type": "quantitative", "scale": {"domain": [0, 20], "nice": false}, "axis": {"orient": "top", "values": [0, 5, 10, 15, 20], "labels": false, "title": null}},
      "y": {"datum": 0, "type": "quantitative", "scale": {"domain": [-5, 5], "nice": false}, "axis": {"orient": "right", "values": [-5, 0, 5], "labels": false, "title": null}}
     }}
   ],
   "resolve": {"axis": {"x": "independent", "y": "independent"}}}
 ]}
]
}
